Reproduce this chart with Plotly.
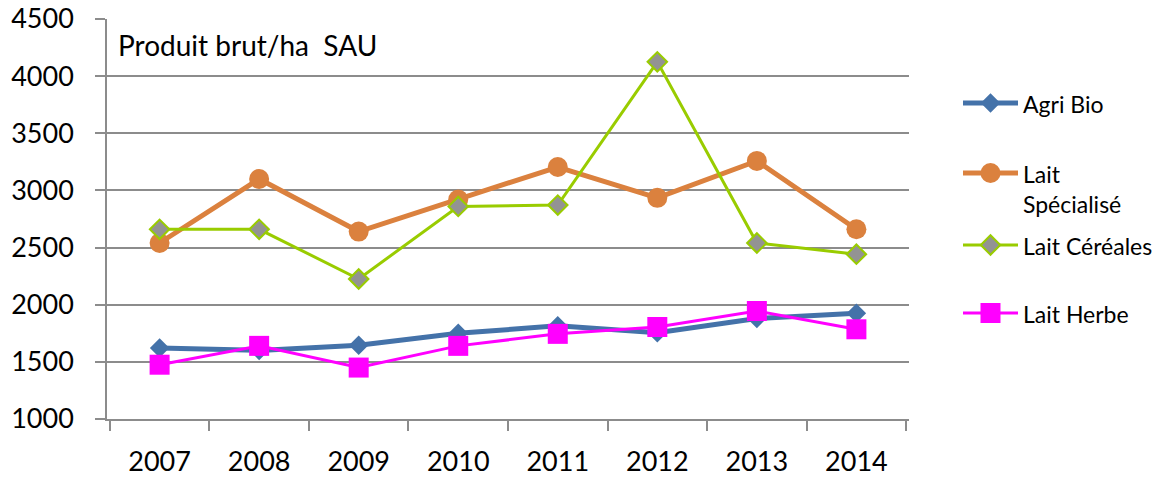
import plotly.graph_objects as go

# Produit brut par ha de SAU, par système d'exploitation
years = ["2007", "2008", "2009", "2010", "2011", "2012", "2013", "2014"]
agri_bio = [1621, 1600, 1645, 1750, 1815, 1755, 1880, 1925]
lait_specialise = [2540, 3100, 2640, 2920, 3205, 2935, 3258, 2660]
lait_cereales = [2660, 2660, 2225, 2860, 2872, 4125, 2540, 2442]
lait_herbe = [1475, 1640, 1450, 1640, 1745, 1805, 1945, 1785]

y_ticks = [1000, 1500, 2000, 2500, 3000, 3500, 4000, 4500]

W, H = 1165, 478
FONT = "Lato"
GRID = "#8c8c8c"

series = [
    dict(name="Agri Bio", values=agri_bio,
         line=dict(color="#4472a9", width=5),
         marker=dict(symbol="diamond", size=15, color="#4472a9",
                     line=dict(width=0))),
    dict(name="Lait<br>Spécialisé", values=lait_specialise,
         line=dict(color="#db813e", width=5),
         marker=dict(symbol="circle", size=20, color="#db813e",
                     line=dict(width=0))),
    dict(name="Lait Céréales", values=lait_cereales,
         line=dict(color="#99cc00", width=3),
         marker=dict(symbol="diamond", size=15, color="#939393",
                     line=dict(width=2, color="#99cc00"))),
    dict(name="Lait Herbe", values=lait_herbe,
         line=dict(color="#ff00ff", width=3),
         marker=dict(symbol="square", size=20, color="#ff00ff",
                     line=dict(width=0))),
]

fig = go.Figure()
for s in series:
    fig.add_trace(go.Scatter(
        x=years, y=s["values"], mode="lines+markers",
        line=s["line"], marker=s["marker"], showlegend=False,
        xaxis="x", yaxis="y", cliponaxis=False,
    ))

# Legend drawn on a pixel-space overlay axis
leg_rows = [103, 173, 245, 313]
leg_x0, leg_x1, leg_text_x = 963, 1018, 1021
for s, yy in zip(series, leg_rows):
    fig.add_trace(go.Scatter(
        x=[leg_x0, leg_x1], y=[yy, yy], mode="lines", line=s["line"],
        showlegend=False, hoverinfo="skip",
        xaxis="x2", yaxis="y2", cliponaxis=False,
    ))
    fig.add_trace(go.Scatter(
        x=[(leg_x0 + leg_x1) / 2], y=[yy], mode="markers",
        marker=s["marker"], showlegend=False, hoverinfo="skip",
        xaxis="x2", yaxis="y2", cliponaxis=False,
    ))
    fig.add_annotation(
        x=leg_text_x, y=yy - 15, xref="x2", yref="y2",
        text=s["name"], showarrow=False, xanchor="left", yanchor="top",
        align="left", font=dict(family=FONT, size=23, color="#000000"),
    )

fig.add_annotation(
    x=116, y=45, xref="x2", yref="y2",
    text="Produit brut/ha\u00a0 SAU", showarrow=False,
    xanchor="left", yanchor="middle",
    font=dict(family=FONT, size=28, color="#000000"),
)

fig.update_layout(
    width=W, height=H,
    margin=dict(l=0, r=0, t=0, b=0, autoexpand=False),
    paper_bgcolor="white", plot_bgcolor="rgba(0,0,0,0)",
    font=dict(family=FONT, color="#000000"),
    xaxis=dict(
        type="category", domain=[107 / W, 909 / W], anchor="y",
        automargin=False,
        showline=True, linecolor=GRID, linewidth=1.5,
        ticks="outside", tickson="boundaries", ticklen=10,
        tickcolor=GRID, tickwidth=1.5, showgrid=False,
        tickfont=dict(family=FONT, size=27, color="#000000"),
        ticklabelstandoff=18,
    ),
    yaxis=dict(
        range=[1000, 4500], tickvals=y_ticks, domain=[59 / H, 459 / H],
        anchor="x", automargin=False,
        showgrid=True, gridcolor=GRID, gridwidth=1.5,
        showline=True, linecolor=GRID, linewidth=1.5, zeroline=False,
        ticks="outside", ticklen=10, tickcolor=GRID, tickwidth=1.5,
        tickfont=dict(family=FONT, size=27, color="#000000"),
        ticklabelstandoff=16,
    ),
    xaxis2=dict(domain=[0, 1], range=[0, W], anchor="y2", visible=False,
                fixedrange=True, automargin=False),
    yaxis2=dict(domain=[0, 1], range=[H, 0], anchor="x2", visible=False,
                fixedrange=True, automargin=False),
)

fig.write_html("out.html")
